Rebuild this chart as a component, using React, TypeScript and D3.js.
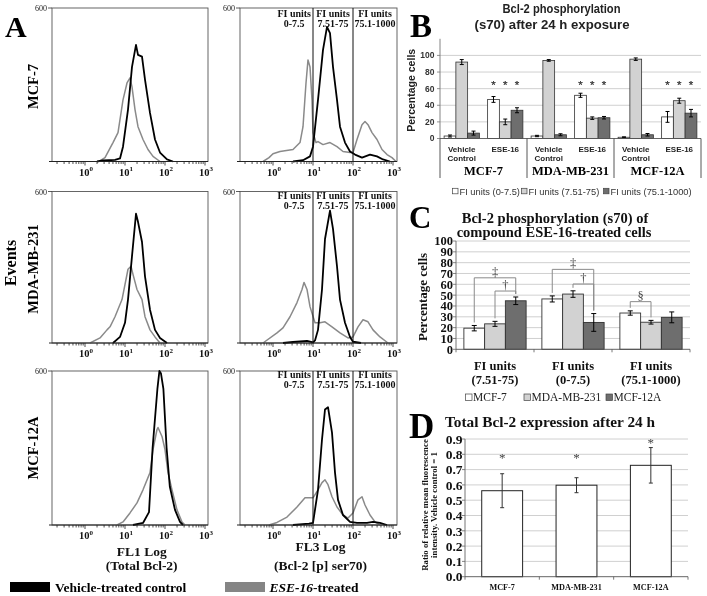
import React from 'react';
import * as d3 from 'd3';

const SERIF = "'Liberation Serif','Times New Roman',serif";
const SANS = "'Liberation Sans',Arial,sans-serif";

// ================= Panel A: flow cytometry histograms =================
// points are [log10(fluorescence intensity), events]
const histRows = ['MCF-7', 'MDA-MB-231', 'MCF-12A'];
const histMaxEvents = 600;
const decadeLabels = [0, 1, 2, 3];
const gateEdgesLog = [1, 2];
const gateLabels = [['FI units', '0-7.5'], ['FI units', '7.51-75'], ['FI units', '75.1-1000']];
const gateLabelPos = [0.53, 1.5, 2.55];

const mcf7Fl1Vehicle = [[0.3,0],[0.45,4],[0.75,6],[0.875,12],[0.95,58],[1.075,203],[1.175,370],[1.275,456],[1.325,417],[1.425,410],[1.5,320],[1.625,190],[1.75,86],[1.875,35],[2.05,8],[2.2,0]];
const mcf7Fl1Ese16 = [[0.35,0],[0.5,15],[0.7,74],[0.825,113],[0.95,241],[1.05,307],[1.125,327],[1.175,292],[1.25,203],[1.325,136],[1.45,86],[1.575,47],[1.7,20],[1.875,0]];
const mdaFl1Vehicle = [[0.7,0],[0.875,24],[1.0,80],[1.075,172],[1.175,344],[1.275,512],[1.325,480],[1.425,400],[1.5,264],[1.625,132],[1.75,52],[1.875,20],[2.05,0]];
const mdaFl1Ese16 = [[0.125,0],[0.375,20],[0.55,52],[0.625,64],[0.75,104],[0.925,172],[1.075,292],[1.15,304],[1.2,272],[1.3,212],[1.425,172],[1.5,104],[1.625,52],[1.75,24],[1.875,0]];
const mcf12aFl1Vehicle = [[1.2,0],[1.45,8],[1.6,50],[1.69,300],[1.81,530],[1.86,600],[1.9,590],[1.96,530],[2.04,300],[2.12,150],[2.25,59],[2.375,12],[2.45,0]];
const mcf12aFl1Ese16 = [[0.8,0],[0.95,12],[1.125,47],[1.3,86],[1.45,137],[1.625,204],[1.7,294],[1.8,372],[1.825,380],[1.925,345],[2.0,294],[2.075,204],[2.175,137],[2.3,59],[2.425,12],[2.5,0]];

const mcf7Fl3Vehicle = [[0.5,0],[0.75,5],[0.925,20],[1.0,58],[1.125,241],[1.25,436],[1.35,526],[1.425,502],[1.5,370],[1.6,241],[1.675,136],[1.8,74],[1.925,39],[2.05,27],[2.225,15],[2.425,27],[2.6,20],[2.75,8],[2.925,0]];
const mcf7Fl3Ese16 = [[-0.25,0],[-0.1,15],[0,30],[0.175,39],[0.5,47],[0.675,74],[0.75,136],[0.825,307],[0.875,397],[0.925,370],[0.975,241],[1.0,113],[1.075,74],[1.125,78],[1.25,66],[1.425,74],[1.6,58],[1.75,39],[1.925,35],[2.0,35],[2.1,86],[2.225,144],[2.3,156],[2.375,144],[2.475,113],[2.6,86],[2.725,47],[2.85,27],[2.975,15],[3.075,0]];
const mdaFl3Vehicle = [[0.25,0],[0.5,4],[0.85,8],[1.0,2],[1.05,10],[1.125,52],[1.225,212],[1.3,412],[1.425,524],[1.5,452],[1.6,304],[1.675,172],[1.8,80],[1.925,24],[2.0,5],[2.2,0]];
const mdaFl3Ese16 = [[-0.25,0],[0.1,40],[0.25,60],[0.425,104],[0.6,160],[0.725,212],[0.775,240],[0.85,212],[0.925,144],[1.05,80],[1.175,80],[1.3,84],[1.475,64],[1.675,40],[1.875,20],[2.0,24],[2.125,64],[2.25,92],[2.375,84],[2.5,52],[2.675,24],[2.875,0]];
const mcf12aFl3Vehicle = [[0.5,0],[0.9,5],[1.0,8],[1.125,137],[1.225,333],[1.3,450],[1.375,459],[1.475,360],[1.55,204],[1.625,98],[1.75,39],[1.925,12],[2.1,8],[2.35,8],[2.5,12],[2.675,8],[2.85,0]];
const mcf12aFl3Ese16 = [[-0.1,0],[0.1,10],[0.35,31],[0.6,70],[0.8,106],[1.0,106],[1.125,137],[1.225,165],[1.3,176],[1.375,157],[1.475,110],[1.6,70],[1.75,39],[1.875,27],[2.0,47],[2.125,98],[2.225,110],[2.3,78],[2.425,39],[2.55,12],[2.675,0]];

const fl1Vehicle = [mcf7Fl1Vehicle, mdaFl1Vehicle, mcf12aFl1Vehicle];
const fl1Ese16 = [mcf7Fl1Ese16, mdaFl1Ese16, mcf12aFl1Ese16];
const fl3Vehicle = [mcf7Fl3Vehicle, mdaFl3Vehicle, mcf12aFl3Vehicle];
const fl3Ese16 = [mcf7Fl3Ese16, mdaFl3Ese16, mcf12aFl3Ese16];

// ================= Panel B =================
const bCellLines = ['MCF-7', 'MDA-MB-231', 'MCF-12A'];
const bTreatments = [['Vehicle', 'Control'], ['ESE-16']];
const bSeriesNames = ['FI units (0-7.5)', 'FI units (7.51-75)', 'FI units (75.1-1000)'];
// order: MCF-7 veh, MCF-7 ESE, MDA veh, MDA ESE, MCF-12A veh, MCF-12A ESE
const bLow = [3, 47, 3, 52, 1.5, 26];
const bMid = [92, 20, 94, 24.5, 95.5, 45.5];
const bHigh = [6.5, 34, 4.5, 25, 4.5, 30.5];
const bLowErr = [1.2, 3.5, 0.8, 2.5, 0.5, 6.5];
const bMidErr = [3, 3.4, 1, 1.5, 1.5, 3];
const bHighErr = [2.4, 3, 1.2, 1.5, 1.5, 4.5];
const bStarLevel = 67;
const bTicks = [0, 20, 40, 60, 80, 100];

// ================= Panel C =================
const cGroups = [['FI units', '(7.51-75)'], ['FI units', '(0-7.5)'], ['FI units', '(75.1-1000)']];
const cSeriesNames = ['MCF-7', 'MDA-MB-231', 'MCF-12A'];
const cMcf7 = [19.5, 46.5, 33.5];
const cMda = [23.5, 51, 25];
const cMcf12a = [44.8, 24.8, 29.5];
const cMcf7Err = [2.5, 2.8, 2];
const cMdaErr = [2.3, 3, 1.7];
const cMcf12aErr = [3.5, 8.2, 5];
const cBrackets = [
  { group: 0, from: 0, to: 2, level: 66, symbol: '‡' },
  { group: 0, from: 1, to: 2, level: 53.8, symbol: '†' },
  { group: 1, from: 0, to: 2, level: 73.8, symbol: '‡' },
  { group: 1, from: 1, to: 2, level: 60.3, symbol: '†' },
  { group: 2, from: 0, to: 1, level: 44, symbol: '§' },
];

// ================= Panel D =================
const dCellLines = ['MCF-7', 'MDA-MB-231', 'MCF-12A'];
const dValues = [0.562, 0.598, 0.728];
const dErrors = [0.111, 0.049, 0.116];
const dStarLevels = [0.79, 0.79, 0.89];

const barFills = ['#ffffff', '#d2d2d2', '#6e6e6e'];

function HistPanel({ row, col, vehicle, treated }: any) {
  const colLefts = [52, 240];
  const colRights = [208, 397];
  const colDomains = [[-0.825, 3.075], [-0.825, 3.1]];
  const rowTops = [8, 191.5, 371];
  const rowBottoms = [161.5, 343, 525];
  const left = colLefts[col], right = colRights[col];
  const top = rowTops[row], bottom = rowBottoms[row];
  const dom = colDomains[col];
  const x = d3.scaleLinear().domain(dom).range([left, right]);
  const y = d3.scaleLinear().domain([0, histMaxEvents]).range([bottom, top]);
  const line = d3.line<any>().x((d: any) => x(d[0])).y((d: any) => y(d[1]));
  const ticks: { v: number; major: boolean }[] = [];
  for (let dec = -1; dec <= 3; dec++) {
    for (let k = 1; k <= 9; k++) {
      const v = dec + Math.log10(k);
      if (v >= dom[0] - 1e-9 && v <= dom[1] + 1e-9) ticks.push({ v, major: k === 1 });
    }
  }
  const labOff = [9, 7, 7][row];
  return (
    <g>
      <rect x={left} y={top} width={right - left} height={bottom - top} fill="none" stroke="#555" strokeWidth={0.9} />
      <path d={line(treated) || ''} fill="none" stroke="#8a8a8a" strokeWidth={1.5} strokeLinejoin="round" />
      <path d={line(vehicle) || ''} fill="none" stroke="#000" strokeWidth={1.8} strokeLinejoin="round" />
      {col === 1 && gateEdgesLog.map((g, i) => (
        <line key={'g' + i} x1={x(g)} x2={x(g)} y1={top} y2={bottom} stroke="#111" strokeWidth={1} />
      ))}
      {col === 1 && gateLabels.map((lab, i) => (
        <g key={'gl' + i} fontFamily={SERIF} fontWeight="bold" fontSize={10} textAnchor="middle" fill="#111">
          <text x={x(gateLabelPos[i])} y={top + labOff}>{lab[0]}</text>
          <text x={x(gateLabelPos[i])} y={top + labOff + 10}>{lab[1]}</text>
        </g>
      ))}
      <line x1={left - 3} x2={right} y1={bottom} y2={bottom} stroke="#222" strokeWidth={1} />
      {ticks.map((t, i) => (
        <line key={'t' + i} x1={x(t.v)} x2={x(t.v)} y1={bottom} y2={bottom + (t.major ? 4 : 2.5)} stroke="#222" strokeWidth={0.8} />
      ))}
      <line x1={left - 4} x2={left} y1={top} y2={top} stroke="#333" strokeWidth={0.8} />
      <text x={left - 5} y={top + 3} textAnchor="end" fontFamily={SERIF} fontSize={8} fill="#222">{y.domain()[1]}</text>
      {decadeLabels.map((d) => (
        <text key={'d' + d} x={x(d) + 1} y={bottom + 14} textAnchor="middle" fontFamily={SERIF} fontWeight="bold" fontSize={10.5} fill="#111">
          10<tspan dy={-4.5} fontSize={7}>{d}</tspan>
        </text>
      ))}
    </g>
  );
}

function PanelA() {
  const rowCenters = [86.5, 269, 448];
  return (
    <g>
      <text x={5} y={37} fontFamily={SERIF} fontWeight="bold" fontSize={30}>A</text>
      <text transform="translate(15.5,263) rotate(-90)" textAnchor="middle" fontFamily={SERIF} fontWeight="bold" fontSize={16}>Events</text>
      {histRows.map((name, r) => (
        <g key={name}>
          <text transform={`translate(37.5,${rowCenters[r]}) rotate(-90)`} textAnchor="middle" fontFamily={SERIF} fontWeight="bold" fontSize={14.5}>{name}</text>
          <HistPanel row={r} col={0} vehicle={fl1Vehicle[r]} treated={fl1Ese16[r]} />
          <HistPanel row={r} col={1} vehicle={fl3Vehicle[r]} treated={fl3Ese16[r]} />
        </g>
      ))}
      <g fontFamily={SERIF} fontWeight="bold" fontSize={13.5} textAnchor="middle" fill="#111">
        <text x={141.7} y={555.5}>FL1 Log</text>
        <text x={141.7} y={570}>(Total Bcl-2)</text>
        <text x={320.5} y={551}>FL3 Log</text>
        <text x={320.5} y={569.5}>(Bcl-2 [p] ser70)</text>
      </g>
      <rect x={10} y={582} width={40} height={10} fill="#000" />
      <text x={55} y={591.5} fontFamily={SERIF} fontWeight="bold" fontSize={13.5}>Vehicle-treated control</text>
      <rect x={225} y={582} width={40} height={10} fill="#858585" />
      <text x={269.5} y={591.5} fontFamily={SERIF} fontWeight="bold" fontSize={13.5}>
        <tspan fontStyle="italic">ESE-16</tspan>-treated
      </text>
    </g>
  );
}

function PanelB() {
  const y = d3.scaleLinear().domain([0, 120]).range([138.5, 38.8]);
  const x0 = d3.scaleBand<number>().domain(d3.range(6)).range([440, 701]);
  const x1 = d3.scaleBand<number>().domain([0, 1, 2]).range([0, x0.bandwidth()]).paddingOuter(0.35);
  const series = [bLow, bMid, bHigh];
  const errs = [bLowErr, bMidErr, bHighErr];
  const groupW = (701 - 440) / 3;
  return (
    <g>
      <text x={410} y={37} fontFamily={SERIF} fontWeight="bold" fontSize={33}>B</text>
      <g fontFamily={SANS} fontWeight="bold" fontSize={12.5} fill="#222" textAnchor="middle">
        <text x={561.5} y={12.5} textLength={118} lengthAdjust="spacingAndGlyphs">Bcl-2 phosphorylation</text>
        <text x={552} y={28.5} textLength={155} lengthAdjust="spacingAndGlyphs">(s70) after 24 h exposure</text>
      </g>
      {bTicks.filter((t) => t > 0).map((t) => (
        <line key={'gr' + t} x1={440} x2={701} y1={y(t)} y2={y(t)} stroke="#c4c4c4" strokeWidth={0.8} />
      ))}
      <line x1={440} x2={440} y1={y(120)} y2={y(0)} stroke="#777" strokeWidth={0.9} />
      {bTicks.map((t) => (
        <g key={'yt' + t}>
          <line x1={437} x2={440} y1={y(t)} y2={y(t)} stroke="#777" strokeWidth={0.8} />
          <text x={434.5} y={y(t)} dy="0.35em" textAnchor="end" fontFamily={SANS} fontWeight="bold" fontSize={8.5} fill="#333">{t}</text>
        </g>
      ))}
      <text transform={`translate(415,${y(58)}) rotate(-90)`} textAnchor="middle" fontFamily={SANS} fontWeight="bold" fontSize={10.5} fill="#222">Percentage cells</text>
      {d3.range(6).map((g) => (
        <g key={'bg' + g}>
          {series.map((s, si) => {
            const bx = (x0(g) || 0) + (x1(si) || 0);
            const bw = x1.bandwidth();
            const cx = bx + bw / 2;
            const v = s[g], e = errs[si][g];
            return (
              <g key={si}>
                <rect x={bx} y={y(v)} width={bw} height={y(0) - y(v)} fill={barFills[si]} stroke="#333" strokeWidth={0.8} />
                <line x1={cx} x2={cx} y1={y(v + e)} y2={y(v - e)} stroke="#000" strokeWidth={1} />
                <line x1={cx - 2} x2={cx + 2} y1={y(v + e)} y2={y(v + e)} stroke="#000" strokeWidth={1} />
                <line x1={cx - 2} x2={cx + 2} y1={y(v - e)} y2={y(v - e)} stroke="#000" strokeWidth={1} />
                {g % 2 === 1 && (
                  <text x={cx} y={y(bStarLevel) + 6.5} textAnchor="middle" fontFamily={SANS} fontSize={11.5} fill="#333" stroke="#333" strokeWidth={0.25}>*</text>
                )}
              </g>
            );
          })}
          <g fontFamily={SANS} fontWeight="bold" fontSize={8} fill="#222" textAnchor="middle">
            {bTreatments[g % 2].map((ln, li) => (
              <text key={li} x={(x0(g) || 0) + x0.bandwidth() / 2} y={151.7 + li * 9}>{ln}</text>
            ))}
          </g>
        </g>
      ))}
      <line x1={440} x2={701} y1={y(0)} y2={y(0)} stroke="#555" strokeWidth={0.9} />
      {d3.range(4).map((i) => (
        <line key={'sep' + i} x1={440 + i * groupW} x2={440 + i * groupW} y1={y(0)} y2={178} stroke="#444" strokeWidth={0.9} />
      ))}
      {bCellLines.map((c, i) => (
        <text key={c} x={440 + (i + 0.5) * groupW} y={175} textAnchor="middle" fontFamily={SERIF} fontWeight="bold" fontSize={12.5}>{c}</text>
      ))}
      {bSeriesNames.map((n, i) => {
        const lx = [452.5, 521.5, 603.5][i];
        return (
          <g key={n}>
            <rect x={lx} y={188.3} width={5.5} height={5.5} fill={barFills[i]} stroke="#444" strokeWidth={0.7} />
            <text x={lx + 7} y={194.5} fontFamily={SANS} fontSize={9.3} fill="#333">{n}</text>
          </g>
        );
      })}
    </g>
  );
}

function PanelC() {
  const y = d3.scaleLinear().domain([0, 100]).range([349.3, 241]);
  const x0 = d3.scaleBand<number>().domain([0, 1, 2]).range([456, 690]);
  const x1 = d3.scaleBand<number>().domain([0, 1, 2]).range([0, x0.bandwidth()]).paddingOuter(0.38);
  const series = [cMcf7, cMda, cMcf12a];
  const errs = [cMcf7Err, cMdaErr, cMcf12aErr];
  const cx = (g: number, s: number) => (x0(g) || 0) + (x1(s) || 0) + x1.bandwidth() / 2;
  const ticks = y.ticks(10);
  return (
    <g>
      <text x={409} y={227.5} fontFamily={SERIF} fontWeight="bold" fontSize={31}>C</text>
      <g fontFamily={SERIF} fontWeight="bold" fontSize={14.5} textAnchor="middle" fill="#111">
        <text x={555} y={222.5}>Bcl-2 phosphorylation (s70) of</text>
        <text x={554} y={236.7}>compound ESE-16-treated cells</text>
      </g>
      {ticks.filter((t) => t > 0).map((t) => (
        <line key={'gr' + t} x1={456} x2={690} y1={y(t)} y2={y(t)} stroke="#c4c4c4" strokeWidth={0.8} />
      ))}
      <line x1={456} x2={456} y1={y(100)} y2={y(0)} stroke="#666" strokeWidth={0.9} />
      {ticks.map((t) => (
        <g key={'yt' + t}>
          <line x1={453} x2={456} y1={y(t)} y2={y(t)} stroke="#666" strokeWidth={0.8} />
          <text x={453} y={y(t)} dy="0.35em" textAnchor="end" fontFamily={SERIF} fontWeight="bold" fontSize={12.5} fill="#111">{t}</text>
        </g>
      ))}
      <text transform={`translate(427,297) rotate(-90)`} textAnchor="middle" fontFamily={SERIF} fontWeight="bold" fontSize={13} fill="#111">Percentage cells</text>
      {[0, 1, 2].map((g) => (
        <g key={'cg' + g}>
          {series.map((s, si) => {
            const bx = (x0(g) || 0) + (x1(si) || 0);
            const bw = x1.bandwidth();
            const c = bx + bw / 2;
            const v = s[g], e = errs[si][g];
            return (
              <g key={si}>
                <rect x={bx} y={y(v)} width={bw} height={y(0) - y(v)} fill={barFills[si]} stroke="#333" strokeWidth={0.9} />
                <line x1={c} x2={c} y1={y(v + e)} y2={y(v - e)} stroke="#000" strokeWidth={1} />
                <line x1={c - 2.5} x2={c + 2.5} y1={y(v + e)} y2={y(v + e)} stroke="#000" strokeWidth={1} />
                <line x1={c - 2.5} x2={c + 2.5} y1={y(v - e)} y2={y(v - e)} stroke="#000" strokeWidth={1} />
              </g>
            );
          })}
          <g fontFamily={SERIF} fontWeight="bold" fontSize={12.5} textAnchor="middle" fill="#111">
            <text x={(x0(g) || 0) + x0.bandwidth() / 2} y={370}>{cGroups[g][0]}</text>
            <text x={(x0(g) || 0) + x0.bandwidth() / 2} y={384}>{cGroups[g][1]}</text>
          </g>
        </g>
      ))}
      {cBrackets.map((b, i) => {
        const xa = cx(b.group, b.from), xb = cx(b.group, b.to);
        const ly = y(b.level);
        const ya = y(series[b.from][b.group] + errs[b.from][b.group]) - 3;
        const yb = y(series[b.to][b.group] + errs[b.to][b.group]) - 3;
        return (
          <g key={'br' + i}>
            <path d={`M${xa},${ya}V${ly}H${xb}V${yb}`} fill="none" stroke="#8a8a8a" strokeWidth={1} />
            <text x={(xa + xb) / 2} y={ly - 2} textAnchor="middle" fontFamily={SERIF} fontSize={12.5} fill="#444">{b.symbol}</text>
          </g>
        );
      })}
      <line x1={456} x2={690} y1={y(0)} y2={y(0)} stroke="#555" strokeWidth={0.9} />
      {[0, 1, 2, 3].map((i) => (
        <line key={'xt' + i} x1={456 + i * x0.step()} x2={456 + i * x0.step()} y1={y(0)} y2={y(0) + 3} stroke="#555" strokeWidth={0.8} />
      ))}
      {cSeriesNames.map((n, i) => {
        const lx = [465.5, 524, 606][i];
        return (
          <g key={n}>
            <rect x={lx} y={394} width={6.5} height={6.5} fill={barFills[i]} stroke="#444" strokeWidth={0.7} />
            <text x={lx + 7.5} y={400.7} fontFamily={SERIF} fontSize={11.5} fill="#222">{n}</text>
          </g>
        );
      })}
    </g>
  );
}

function PanelD() {
  const y = d3.scaleLinear().domain([0, 0.9]).range([576.7, 439]);
  const x = d3.scaleBand<string>().domain(dCellLines).range([465, 688]).paddingInner(0.45).paddingOuter(0.225);
  const ticks = y.ticks(9);
  const fmt = d3.format('.1f');
  return (
    <g>
      <text x={409} y={438} fontFamily={SERIF} fontWeight="bold" fontSize={35}>D</text>
      <text x={550} y={426.7} textAnchor="middle" fontFamily={SERIF} fontWeight="bold" fontSize={15.3} fill="#111">Total Bcl-2 expression after 24 h</text>
      {ticks.filter((t) => t > 0).map((t, i) => (
        <line key={'gr' + i} x1={465} x2={688} y1={y(t)} y2={y(t)} stroke="#c4c4c4" strokeWidth={0.8} />
      ))}
      <line x1={465} x2={465} y1={y(0.9)} y2={y(0)} stroke="#666" strokeWidth={0.9} />
      {ticks.map((t, i) => (
        <g key={'yt' + i}>
          <line x1={462} x2={465} y1={y(t)} y2={y(t)} stroke="#666" strokeWidth={0.8} />
          <text x={462.5} y={y(t)} dy="0.35em" textAnchor="end" fontFamily={SERIF} fontWeight="bold" fontSize={13.5} fill="#111">{fmt(t)}</text>
        </g>
      ))}
      <g fontFamily={SERIF} fontWeight="bold" fontSize={8.8} textAnchor="middle" fill="#111">
        <text transform="translate(428,505) rotate(-90)">Ratio of relative mean fluorescence</text>
        <text transform="translate(436.5,505) rotate(-90)">intensity. Vehicle control = 1</text>
      </g>
      {dCellLines.map((c, i) => {
        const bx = x(c) || 0;
        const bw = x.bandwidth();
        const cx = bx + bw / 2;
        const v = dValues[i], e = dErrors[i];
        return (
          <g key={c}>
            <rect x={bx} y={y(v)} width={bw} height={y(0) - y(v)} fill="#fff" stroke="#222" strokeWidth={1} />
            <line x1={cx} x2={cx} y1={y(v + e)} y2={y(v - e)} stroke="#333" strokeWidth={1} />
            <line x1={cx - 2} x2={cx + 2} y1={y(v + e)} y2={y(v + e)} stroke="#333" strokeWidth={1} />
            <line x1={cx - 2} x2={cx + 2} y1={y(v - e)} y2={y(v - e)} stroke="#333" strokeWidth={1} />
            <text x={cx} y={y(dStarLevels[i]) + 6} textAnchor="middle" fontFamily={SERIF} fontSize={13} fill="#444">*</text>
            <text x={cx} y={590} textAnchor="middle" fontFamily={SERIF} fontWeight="bold" fontSize={8.2} fill="#111">{c}</text>
          </g>
        );
      })}
      <line x1={465} x2={688} y1={y(0)} y2={y(0)} stroke="#555" strokeWidth={0.9} />
      {[0, 1, 2, 3].map((i) => (
        <line key={'xt' + i} x1={465 + i * x.step()} x2={465 + i * x.step()} y1={y(0)} y2={y(0) + 3} stroke="#555" strokeWidth={0.8} />
      ))}
    </g>
  );
}

export default function App() {
  return (
    <svg width={707} height={596} viewBox="0 0 707 596" style={{ position: 'absolute', left: 0, top: 0, background: '#fff' }}>
      <defs>
        <filter id="mono" x="0" y="0" width="1" height="1" filterUnits="objectBoundingBox">
          <feColorMatrix type="saturate" values="0" />
        </filter>
      </defs>
      <rect x={0} y={0} width={707} height={596} fill="#fff" />
      <g filter="url(#mono)">
        <rect x={0} y={0} width={707} height={596} fill="#fff" />
        <PanelA />
        <PanelB />
        <PanelC />
        <PanelD />
      </g>
    </svg>
  );
}
